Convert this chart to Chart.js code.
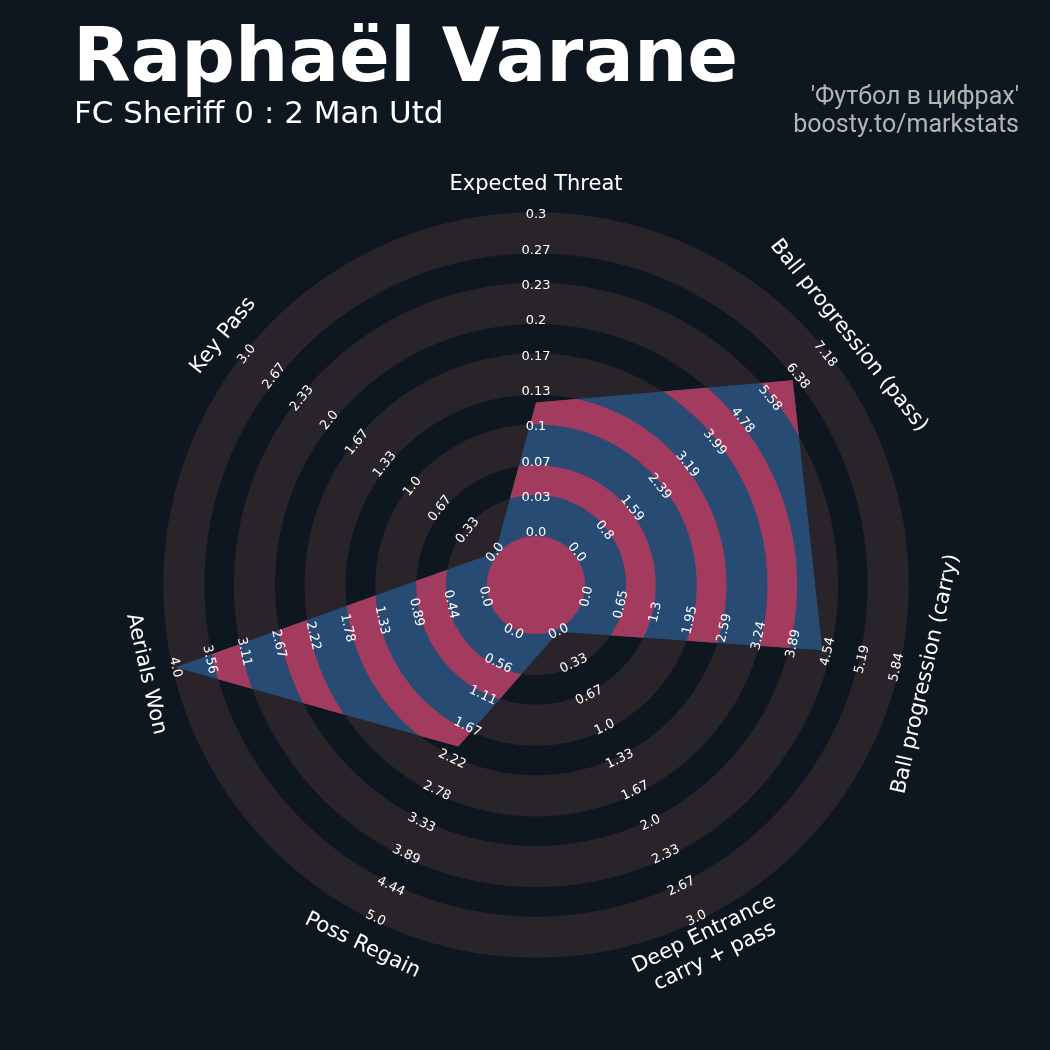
<!DOCTYPE html>
<html>
<head>
<meta charset="utf-8">
<script src="https://cdn.jsdelivr.net/npm/chart.js@4.4.0/dist/chart.umd.min.js"></script>
<style>
  html, body { margin: 0; padding: 0; background: #0e1720; }
  canvas { display: block; }
</style>
</head>
<body>
<canvas id="radar" width="1050" height="1050"></canvas>
<script>
// --- data ---
var params = ['Expected Threat', 'Ball progression (pass)', 'Ball progression (carry)',
              ['Deep Entrance', 'carry + pass'], 'Poss Regain', 'Aerials Won', 'Key Pass'];
var values   = [0.123, 6.24, 4.44, 0, 2, 4, 0];
var minRange = [0, 0, 0, 0, 0, 0, 0];
var maxRange = [0.3, 7.18, 5.84, 3, 5, 4, 3];
var ticksXT    = ['0.0', '0.03', '0.07', '0.1', '0.13', '0.17', '0.2', '0.23', '0.27', '0.3'];
var ticksPass  = ['0.0', '0.8', '1.59', '2.39', '3.19', '3.99', '4.78', '5.58', '6.38', '7.18'];
var ticksCarry = ['0.0', '0.65', '1.3', '1.95', '2.59', '3.24', '3.89', '4.54', '5.19', '5.84'];
var ticksDeep  = ['0.0', '0.33', '0.67', '1.0', '1.33', '1.67', '2.0', '2.33', '2.67', '3.0'];
var ticksRegain = ['0.0', '0.56', '1.11', '1.67', '2.22', '2.78', '3.33', '3.89', '4.44', '5.0'];
var ticksAerial = ['0.0', '0.44', '0.89', '1.33', '1.78', '2.22', '2.67', '3.11', '3.56', '4.0'];
var ticksKey   = ['0.0', '0.33', '0.67', '1.0', '1.33', '1.67', '2.0', '2.33', '2.67', '3.0'];
var tickLabels = [ticksXT, ticksPass, ticksCarry, ticksDeep, ticksRegain, ticksAerial, ticksKey];

var title = 'Raphaël Varane';
var subtitle = 'FC Sheriff 0 : 2 Man Utd';
var credit = ["'Футбол в цифрах'", 'boosty.to/markstats'];

// --- styles ---
var bgColor   = '#0e1720';
var ringColor = '#28242a';
var polyColor = '#274b73';
var hiColor   = '#a33b5f';

// share of each axis range, 0 at centre circle edge, 1 at outer label
var shares = values.map(function(v, i) {
	return (v - minRange[i]) / (maxRange[i] - minRange[i]);
});

function annulus(ctx, sc, v0, v1) {
	var r0 = sc.getDistanceFromCenterForValue(v0);
	var r1 = sc.getDistanceFromCenterForValue(v1);
	ctx.beginPath();
	ctx.arc(sc.xCenter, sc.yCenter, r1, 0, 2 * Math.PI);
	ctx.arc(sc.xCenter, sc.yCenter, r0, 0, 2 * Math.PI, true);
	ctx.fill();
}

function tangentAngle(i, n) {
	var a = i * 360 / n;
	if (a > 90 && a < 270) a -= 180;
	return a * Math.PI / 180;
}

var radarDecor = {
	id: 'radarDecor',
	beforeDraw: function(chart) {
		var ctx = chart.ctx;
		ctx.save();
		ctx.fillStyle = bgColor;
		ctx.fillRect(0, 0, chart.width, chart.height);
		ctx.restore();
	},
	beforeDatasetsDraw: function(chart) {
		var sc = chart.scales.r, ctx = chart.ctx;
		ctx.save();
		ctx.fillStyle = ringColor;
		for (var k = 0; k < 5; k++) annulus(ctx, sc, (2 * k - 0.085) / 9, (2 * k + 1.08) / 9);
		ctx.restore();
	},
	afterDatasetsDraw: function(chart) {
		var sc = chart.scales.r, ctx = chart.ctx;
		var pts = chart.getDatasetMeta(0).data;
		var n = params.length;

		// highlighted bands inside the polygon
		ctx.save();
		ctx.beginPath();
		pts.forEach(function(p, i) {
			if (i === 0) ctx.moveTo(p.x, p.y); else ctx.lineTo(p.x, p.y);
		});
		ctx.closePath();
		ctx.clip();
		ctx.fillStyle = hiColor;
		for (var k = 0; k < 4; k++) annulus(ctx, sc, (2 * k + 1.08) / 9, (2 * k + 1.92) / 9);
		ctx.restore();

		// centre circle
		ctx.save();
		ctx.fillStyle = hiColor;
		ctx.beginPath();
		ctx.arc(sc.xCenter, sc.yCenter, sc.getDistanceFromCenterForValue(-0.085 / 9), 0, 2 * Math.PI);
		ctx.fill();
		ctx.restore();

		// range labels
		ctx.save();
		ctx.fillStyle = '#ffffff';
		ctx.font = '13px "DejaVu Sans"';
		ctx.textAlign = 'center';
		ctx.textBaseline = 'middle';
		for (var i = 0; i < n; i++) {
			var rot = tangentAngle(i, n);
			tickLabels[i].forEach(function(t, j) {
				var p = sc.getPointPosition(i, sc.getDistanceFromCenterForValue(j / 9));
				ctx.save();
				ctx.translate(p.x, p.y);
				ctx.rotate(rot);
				ctx.fillText(t, 0, 0);
				ctx.restore();
			});
		}
		ctx.restore();

		// parameter labels
		ctx.save();
		ctx.fillStyle = '#ffffff';
		ctx.font = '21px "DejaVu Sans"';
		ctx.textAlign = 'center';
		ctx.textBaseline = 'middle';
		var rLab = sc.getDistanceFromCenterForValue(1) + 30;
		params.forEach(function(lab, i) {
			var p = sc.getPointPosition(i, rLab);
			var lines = Array.isArray(lab) ? lab : [lab];
			ctx.save();
			ctx.translate(p.x, p.y);
			ctx.rotate(tangentAngle(i, n));
			lines.forEach(function(s, k) {
				ctx.fillText(s, 0, (k - (lines.length - 1) / 2) * 25);
			});
			ctx.restore();
		});
		ctx.restore();
	},
	afterDraw: function(chart) {
		var ctx = chart.ctx;
		ctx.save();
		ctx.fillStyle = '#ffffff';
		ctx.textAlign = 'left';
		ctx.textBaseline = 'alphabetic';
		ctx.font = 'bold 75px "DejaVu Sans"';
		ctx.fillText(title, 73, 81);
		ctx.font = '31px "DejaVu Sans"';
		ctx.fillText(subtitle, 74, 123);
		ctx.fillStyle = '#b4b4b4';
		ctx.textAlign = 'right';
		ctx.font = '25px Roboto';
		ctx.fillText(credit[0], 1019, 104);
		ctx.fillText(credit[1], 1019, 132);
		ctx.restore();
	}
};

var ctxRadar = document.getElementById('radar').getContext('2d');
var myRadar = new Chart(ctxRadar, {
	type: 'radar',
	data: {
		labels: params,
		datasets: [{
			data: shares,
			backgroundColor: polyColor,
			borderColor: 'transparent',
			borderWidth: 0,
			pointRadius: 0,
			pointHoverRadius: 0,
			fill: 'start'
		}]
	},
	options: {
		responsive: false,
		animation: false,
		devicePixelRatio: 1,
		layout: { padding: { left: 166, right: 144, top: 215, bottom: 95 } },
		plugins: {
			legend: { display: false },
			tooltip: { enabled: false }
		},
		scales: {
			r: {
				min: -0.1635,
				max: 1,
				ticks: { display: false },
				grid: { display: false },
				angleLines: { display: false },
				pointLabels: { display: false }
			}
		}
	},
	plugins: [radarDecor]
});
</script>
</body>
</html>
